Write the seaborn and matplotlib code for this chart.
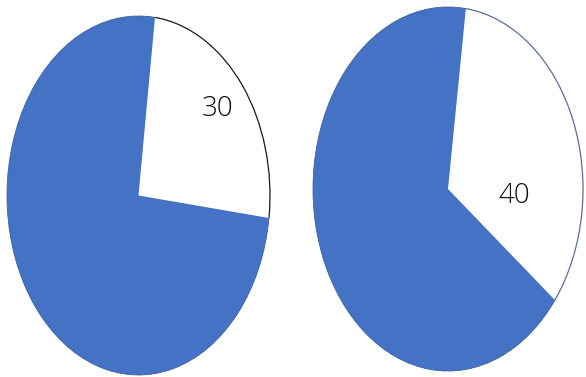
import matplotlib
matplotlib.use("Agg")
import matplotlib.pyplot as plt
from matplotlib.patches import Arc
import seaborn as sns

sns.set_theme(style="white")
plt.rcParams["font.family"] = ["Open Sans", "DejaVu Sans"]

# two pies: highlighted share (white, labelled) and the rest (blue)
labelled_values = [30, 40]
other_values = [90, 80]
slice_colors = ["#FFFFFF", "#4472C4"]

# layout of each pie: axes box in figure fraction, start angle, label spot, outline colour
axes_boxes = [
    [7 / 586, 2 / 377, 263 / 586, 359 / 377],
    [313 / 586, 6 / 377, 270 / 586, 364 / 377],
]
start_angles = [82.8, 82.4]
label_spots = [(0.60, 0.48), (0.49, -0.04)]
outline_colors = ["#1a1a1a", "#5b6e96"]

fig = plt.figure(figsize=(5.86, 3.77), dpi=100)

for box, lab, rest, start, spot, edge in zip(
    axes_boxes, labelled_values, other_values, start_angles, label_spots, outline_colors
):
    ax = fig.add_axes(box)
    wedges, _ = ax.pie(
        [lab, rest],
        colors=slice_colors,
        startangle=start,
        counterclock=False,
        radius=1.0,
        wedgeprops=dict(edgecolor="none", linewidth=0),
    )
    for w in wedges:
        w.set_clip_on(False)
    # outline only along the rim of the white slice; thin darker rim on the blue one
    white, blue = wedges
    ax.add_patch(Arc((0, 0), 2, 2, theta1=white.theta1, theta2=white.theta2,
                     color=edge, linewidth=0.9, clip_on=False))
    ax.add_patch(Arc((0, 0), 2, 2, theta1=blue.theta1, theta2=blue.theta2,
                     color="#3d5f9f", linewidth=0.6, clip_on=False))
    # stretch each pie to fill its box
    ax.set_aspect("auto")
    ax.set_xlim(-1, 1)
    ax.set_ylim(-1, 1)
    ax.axis("off")
    ax.text(spot[0], spot[1], str(lab), ha="center", va="center",
            fontsize=20, fontweight="light", color="#111111")

fig.savefig("out.png", dpi=100)
